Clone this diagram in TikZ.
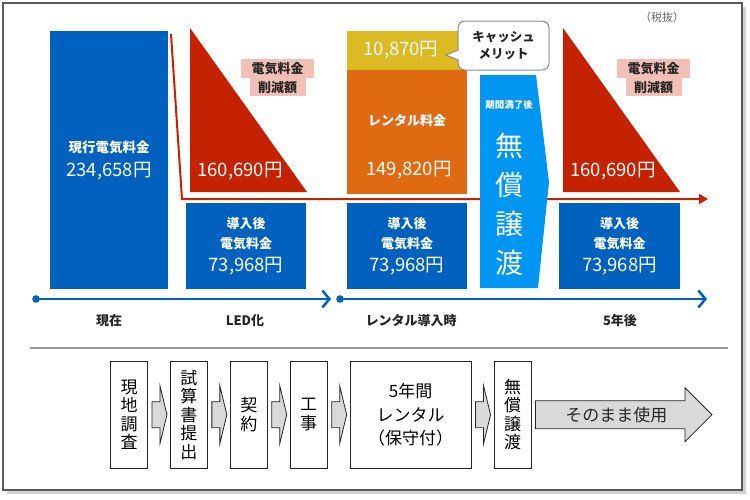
\documentclass[tikz,border=0pt]{standalone}
\usepackage{fontspec}
\setmainfont{Noto Sans CJK JP}
\usetikzlibrary{arrows.meta,positioning,calc}
\definecolor{ledblue}{RGB}{0,98,190}
\definecolor{cutred}{RGB}{196,34,0}
\definecolor{rentorange}{RGB}{224,106,18}
\definecolor{cashyellow}{RGB}{219,186,36}
\definecolor{freeblue}{RGB}{0,150,242}
\definecolor{cutpink}{RGB}{243,192,182}
\definecolor{flowgray}{RGB}{217,217,217}

\begin{document}
\begin{tikzpicture}[x=1pt,y=-1pt,
costbox/.style={fill=ledblue,text=white,align=center,inner sep=0pt,minimum width=120pt,minimum height=86pt,font=\bfseries\fontsize{13}{20}\selectfont},
rentbox/.style={fill=#1,text=white,align=center,inner sep=0pt,minimum width=120pt},
costtext/.style={text=white,font=\fontsize{18.5}{22}\selectfont},
cutlabel/.style={fill=cutpink,text=black!85,inner sep=0pt,font=\bfseries\fontsize{13}{15}\selectfont},
redline/.style={draw=cutred,line width=2pt,-{Triangle[length=9pt,width=10pt]}},
timeline/.style={draw=ledblue,line width=2.5pt,-{Straight Barb[length=7pt,width=17pt]}},
stage/.style={text=black!85,font=\bfseries\fontsize{13}{15}\selectfont},
stepbox/.style={draw=black!85,line width=0.9pt,fill=white,minimum width=37pt,minimum height=107pt,inner sep=0pt,align=center,font=\fontsize{17}{18.5}\selectfont},
flow/.style={draw=black!85,line width=0.8pt,fill=flowgray}]
\useasboundingbox (0,0) rectangle (750,499);
% frame
\fill[gray!35] (7,7) rectangle (746,494);
\filldraw[fill=white,draw=black!65,line width=1.5pt] (3,3) rectangle (742,490);
\node[text=black!60,font=\fontsize{11}{13}\selectfont] (tax) at (662,17) {（税抜）};

% current
\node[costbox,minimum width=118pt,minimum height=258pt,font=\bfseries\fontsize{13.5}{21}\selectfont] (now) at (109,160)
  {現行電気料金\\[3pt]\mdseries\fontsize{18.5}{21}\selectfont 234,658円};

% LED
\fill[cutred] (190,28) -- (190,192) -- (307,192) -- cycle;
\node[costtext] (cut1) at (240,171) {160,690円};
\node[cutlabel,minimum width=73pt,minimum height=19pt] (cut1a) at (277.5,68.5) {電気料金};
\node[cutlabel,minimum width=56pt,minimum height=18pt,below=0pt of cut1a] (cut1b) {削減額};
\node[costbox] (ledcost) at (246,246) {導入後\\電気料金\\[3pt]\mdseries\fontsize{18.5}{23}\selectfont 73,968円};
\coordinate (redtop) at (171,34);
\coordinate (redbend) at (182,199);
\coordinate (redend) at (708,199);
\draw[redline] (redtop) -- (redbend) -- (redend);

% rental
\node[rentbox=cashyellow,minimum height=39pt,font=\fontsize{18.5}{21}\selectfont] (cash) at (407,50.5) {10,870円\hspace*{12pt}};
\node[rentbox=rentorange,minimum height=124pt] (rent) at (407,132) {};
\node[text=white,font=\bfseries\fontsize{13}{16}\selectfont] (rent-t) at (407,121) {レンタル料金};
\node[costtext] (rent-v) at (409,170) {149,820円};
\node[costbox] (rentcost) at (407,246) {導入後\\電気料金\\[3pt]\mdseries\fontsize{18.5}{23}\selectfont 73,968円};
\filldraw[fill=white,draw=black!45,line width=1pt] (446,55) -- (458,50) [rounded corners=7pt] -- (458,21) -- (549,21) -- (549,70) -- (458,70) [sharp corners] -- (458,60) -- cycle;
\node[align=center,text=black!85,font=\bfseries\fontsize{12.5}{17}\selectfont] (merit) at (503.5,45) {キャッシュ\\メリット};

% transfer
\fill[freeblue] (480,75) -- (536,75) -- (549,182) -- (538,288) -- (480,288) -- cycle;
\node[text=white,font=\bfseries\fontsize{9.5}{11}\selectfont] (term) at (509,105) {期間満了後};
\node[text=white,align=center,font=\fontsize{28}{39}\selectfont] (free) at (509,204) {無\\償\\譲\\渡};

% 5 years
\fill[cutred] (563,28) -- (563,192) -- (680,192) -- cycle;
\node[costtext] (cut2) at (613,171) {160,690円};
\node[cutlabel,minimum width=73pt,minimum height=19pt] (cut2a) at (653.5,68.5) {電気料金};
\node[cutlabel,minimum width=56pt,minimum height=18pt,below=0pt of cut2a] (cut2b) {削減額};
\node[costbox,minimum width=121pt] (latercost) at (619.5,246) {導入後\\電気料金\\[3pt]\mdseries\fontsize{18.5}{23}\selectfont 73,968円};

% timeline
\coordinate (t1s) at (36,299);
\coordinate (t1e) at (331,299);
\coordinate (t2s) at (340,299);
\coordinate (t2e) at (707,299);
\draw[timeline] (t1s) -- (t1e);
\draw[timeline] (t2s) -- (t2e);
\fill[ledblue] (t1s) circle (3.8pt) (t2s) circle (3.8pt);
\node[stage] (now-l) at (109,321) {現在};
\node[stage] (led-l) at (245,321) {LED化};
\node[stage] (rent-l) at (411,321) {レンタル導入時};
\node[stage] (later-l) at (620,321) {5年後};

\coordinate (sepL) at (30,348);
\coordinate (sepR) at (728,348);
\draw[black!40,line width=1.3pt] (sepL) -- (sepR);

% steps
\node[stepbox] (s1) at (129,414.7) {現\\地\\調\\査};
\node[stepbox,right=22pt of s1] (s2) {試\\算\\書\\提\\出};
\node[stepbox,right=22pt of s2] (s3) {契\\約};
\node[stepbox,right=22pt of s3] (s4) {工\\事};
\node[stepbox,right=22pt of s4,minimum width=121pt,font=\fontsize{17}{23.5}\selectfont] (s5) {5年間\\レンタル\\（保守付）};
\node[stepbox,right=22pt of s5] (s6) {無\\償\\譲\\渡};
\foreach \a/\b in {s1/s2,s2/s3,s3/s4,s4/s5,s5/s6}
  \draw[flow] ($(\a.east)+(4,-13)$) -- ++(8,0) -- ++(0,-16) -- ($(\b.west)+(-3,0)$)
    -- ($(\a.east)+(12,29)$) -- ++(0,-16) -- ($(\a.east)+(4,13)$) -- cycle;
\draw[flow] ($(s6.east)+(4,-14)$) -- ++(149.5,0) -- ++(0,-13) -- ($(s6.east)+(180.5,0)$)
  -- ($(s6.east)+(153.5,27)$) -- ++(0,-13) -- ($(s6.east)+(4,14)$) -- cycle;
\node[text=black!85,font=\fontsize{17}{19}\selectfont] (keep) at ($(s6.east)+(85,0)$) {そのまま使用};
\end{tikzpicture}
\end{document}
